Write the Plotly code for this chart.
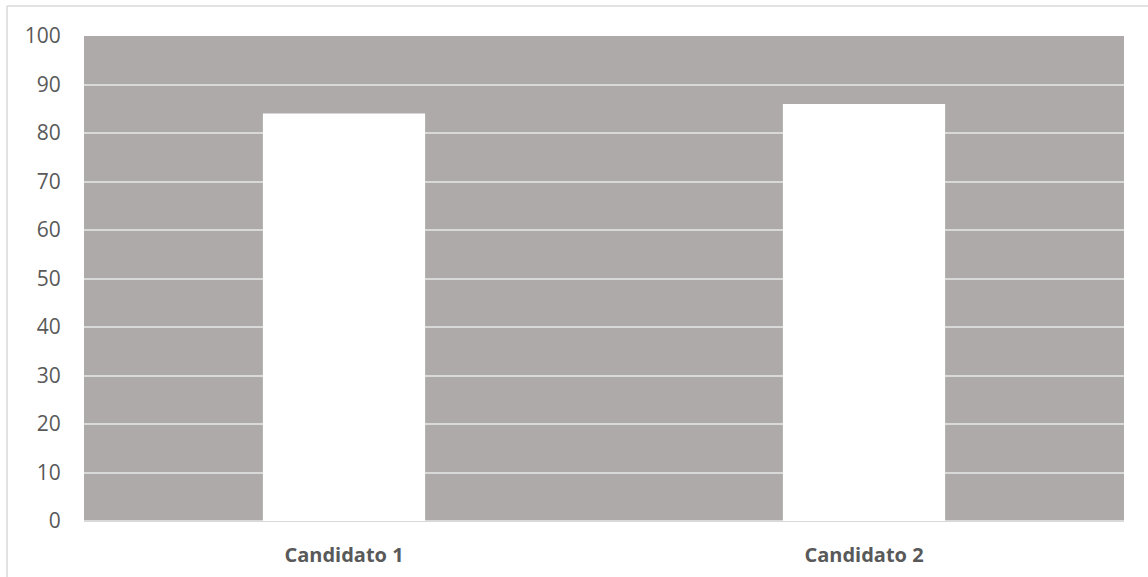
import plotly.graph_objects as go

categories = ["Candidato 1", "Candidato 2"]
values = [84, 86]
tick_vals = [0, 10, 20, 30, 40, 50, 60, 70, 80, 90, 100]

W, H = 1148, 577
L, R, T, B = 84, 24, 36, 56
pw, ph = W - L - R, H - T - B

def px_x(x):
    return (x - L) / pw

def px_y(y):
    return (H - B - y) / ph

fig = go.Figure(go.Bar(
    x=categories, y=values,
    marker=dict(color="#FFFFFF", line=dict(width=0)),
    width=0.312,
))

fig.update_layout(
    width=W, height=H,
    margin=dict(l=L, r=R, t=T, b=B, pad=0),
    paper_bgcolor="#FFFFFF",
    plot_bgcolor="#AEAAAA",
    showlegend=False,
    font=dict(family="Open Sans, Liberation Sans, sans-serif", color="#595959"),
    xaxis=dict(
        automargin=False,
        showgrid=False, zeroline=False,
        showline=False,
        ticks="outside", ticklen=16, tickcolor="rgba(0,0,0,0)",
        tickfont=dict(size=20, color="#595959", family="Open Sans, sans-serif", weight="bold"),
    ),
    yaxis=dict(
        automargin=False,
        range=[0, 100], tickvals=tick_vals,
        showgrid=True, gridcolor="#D9D9D9", gridwidth=1.5,
        zeroline=True, zerolinecolor="#D9D9D9", zerolinewidth=2,
        ticks="outside", ticklen=18, tickcolor="rgba(0,0,0,0)",
        tickfont=dict(size=21, color="#595959"),
    ),
    shapes=[
        dict(type="line", xref="paper", yref="paper",
             x0=px_x(7), x1=px_x(W), y0=px_y(6), y1=px_y(6),
             line=dict(color="#D9D9D9", width=1.5)),
        dict(type="line", xref="paper", yref="paper",
             x0=px_x(7), x1=px_x(7), y0=px_y(6), y1=px_y(H),
             line=dict(color="#D9D9D9", width=1.5)),
    ],
)

fig.write_html(
    "out.html",
    config={"displayModeBar": False},
    post_script="document.body.style.margin='0';document.body.style.overflow='hidden';",
)
